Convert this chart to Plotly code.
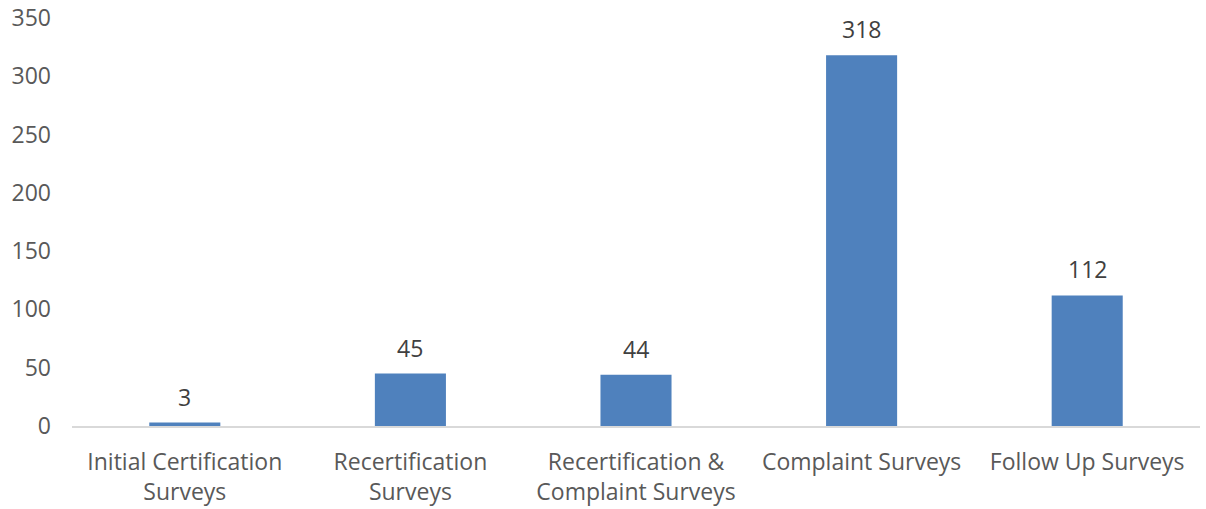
import plotly.graph_objects as go

categories = ["Initial Certification<br>Surveys", "Recertification<br>Surveys",
              "Recertification &<br>Complaint Surveys", "Complaint Surveys", "Follow Up Surveys"]
values = [3, 45, 44, 318, 112]
y_ticks = [0, 50, 100, 150, 200, 250, 300, 350]

FONT = "Open Sans"
FS = 23
fig = go.Figure(go.Bar(x=categories, y=values, marker_color="#4F81BD",
                       marker_line_width=0, hoverinfo="skip"))

for c, v in zip(categories, values):
    fig.add_annotation(x=c, y=v, text=str(v), showarrow=False, yanchor="bottom",
                       yshift=8, font=dict(family=FONT, size=FS, color="#404040"))

fig.update_layout(
    width=1206, height=509, margin=dict(l=72, r=6, t=18, b=83, autoexpand=False),
    paper_bgcolor="white", plot_bgcolor="white", bargap=0.685, showlegend=False,
    font=dict(family=FONT, size=FS, color="#595959"),
)
fig.update_xaxes(showgrid=False, showline=True, linecolor="#D9D9D9", linewidth=2,
                 ticks="", tickfont=dict(size=FS, color="#595959"), ticklabelstandoff=14,
                 automargin=False)
fig.update_yaxes(range=[0, 350], tickvals=y_ticks, showgrid=False, zeroline=False,
                 showline=False, ticks="", tickfont=dict(size=FS, color="#595959"),
                 ticklabelstandoff=20, automargin=False)
fig.write_html("out.html", config={"displayModeBar": False},
               post_script="document.body.style.margin='0px';")
